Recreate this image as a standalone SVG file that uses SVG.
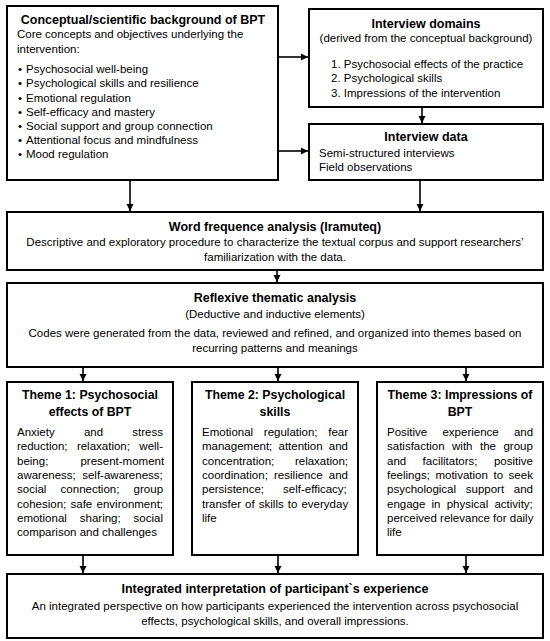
<svg xmlns="http://www.w3.org/2000/svg" width="550" height="641" viewBox="0 0 550 641">
<style>
.box{fill:#fff;stroke:#000;stroke-width:2}
text{font-family:"Liberation Sans",Arial,sans-serif;fill:#000}
.t{font-size:12.5px;font-weight:bold;text-anchor:middle}
.tt{font-size:12.3px;font-weight:bold;text-anchor:middle}
.b{font-size:11.5px}
.c{text-anchor:middle}
.conn line{stroke:#000;stroke-width:1.6;marker-end:url(#ah)}
</style>
<defs>
<marker id="ah" markerUnits="userSpaceOnUse" markerWidth="8" markerHeight="8" refX="7" refY="4" orient="auto">
<path d="M0,0.5 L7,4 L0,7.5 z" fill="#000"/>
</marker>
</defs>
<rect width="550" height="641" fill="#fff"/>

<g id="connectors" class="conn">
<line x1="278" y1="57" x2="308" y2="57"/>
<line x1="278" y1="151" x2="308" y2="151"/>
<line x1="422" y1="107" x2="422" y2="123"/>
<line x1="130" y1="180" x2="130" y2="211"/>
<line x1="420" y1="180" x2="420" y2="211"/>
<line x1="277" y1="270" x2="277" y2="282"/>
<line x1="83" y1="367" x2="83" y2="381"/>
<line x1="278" y1="367" x2="278" y2="381"/>
<line x1="466" y1="367" x2="466" y2="381"/>
<line x1="83" y1="555" x2="83" y2="573"/>
<line x1="278" y1="555" x2="278" y2="573"/>
<line x1="466" y1="555" x2="466" y2="573"/>
</g>

<g id="background">
<rect class="box" x="7" y="6" width="271" height="174"/>
<text class="t" x="143" y="23.5">Conceptual/scientific background of BPT</text>
<text class="b" x="17" y="38">Core concepts and objectives underlying the</text>
<text class="b" x="17" y="53">intervention:</text>
<g class="b">
<text class="b" x="18" y="73">•</text><text class="b" x="26" y="73">Psychosocial well-being</text>
<text class="b" x="18" y="87">•</text><text class="b" x="26" y="87">Psychological skills and resilience</text>
<text class="b" x="18" y="101.5">•</text><text class="b" x="26" y="101.5">Emotional regulation</text>
<text class="b" x="18" y="116">•</text><text class="b" x="26" y="116">Self-efficacy and mastery</text>
<text class="b" x="18" y="130">•</text><text class="b" x="26" y="130">Social support and group connection</text>
<text class="b" x="18" y="144">•</text><text class="b" x="26" y="144">Attentional focus and mindfulness</text>
<text class="b" x="18" y="158">•</text><text class="b" x="26" y="158">Mood regulation</text>
</g>
</g>

<g id="domains">
<rect class="box" x="309" y="9" width="234" height="98"/>
<text class="t" x="426" y="27.5">Interview domains</text>
<text class="b c" x="426" y="42">(derived from the conceptual background)</text>
<text class="b" x="331" y="67.5">1. Psychosocial effects of the practice</text>
<text class="b" x="331" y="82">2. Psychological skills</text>
<text class="b" x="331" y="96.5">3. Impressions of the intervention</text>
</g>

<g id="data">
<rect class="box" x="309" y="124" width="234" height="56"/>
<text class="t" x="426" y="141">Interview data</text>
<text class="b" x="319" y="157">Semi-structured interviews</text>
<text class="b" x="319" y="171">Field observations</text>
</g>

<g id="wordfreq">
<rect class="box" x="7" y="212" width="536" height="58"/>
<text class="t" x="275" y="230.5">Word frequence analysis (Iramuteq)</text>
<text class="b c" x="275" y="246">Descriptive and exploratory procedure to characterize the textual corpus and support researchers’</text>
<text class="b c" x="275" y="261">familiarization with the data.</text>
</g>

<g id="thematic">
<rect class="box" x="7" y="283" width="536" height="84"/>
<text class="t" x="275" y="302">Reflexive thematic analysis</text>
<text class="b c" x="275" y="317.5">(Deductive and inductive elements)</text>
<text class="b c" x="275" y="337">Codes were generated from the data, reviewed and refined, and organized into themes based on</text>
<text class="b c" x="275" y="352">recurring patterns and meanings</text>
</g>

<g id="theme1">
<rect class="box" x="7" y="382" width="166" height="173"/>
<text class="tt" x="90" y="399">Theme 1: Psychosocial</text>
<text class="tt" x="90" y="416">effects of BPT</text>
<text class="b" x="17" y="436" style="word-spacing:26px">Anxiety and stress</text>
<text class="b" x="17" y="450.3" style="word-spacing:6.2px">reduction; relaxation; well-</text>
<text class="b" x="17" y="464.6" style="word-spacing:28.9px">being; present-moment</text>
<text class="b" x="17" y="478.9" style="word-spacing:3.2px">awareness; self-awareness;</text>
<text class="b" x="17" y="493.2" style="word-spacing:11px">social connection; group</text>
<text class="b" x="17" y="507.5" style="word-spacing:1.1px">cohesion; safe environment;</text>
<text class="b" x="17" y="521.8" style="word-spacing:9.7px">emotional sharing; social</text>
<text class="b" x="17" y="536.1">comparison and challenges</text>
</g>

<g id="theme2">
<rect class="box" x="192" y="382" width="166" height="173"/>
<text class="tt" x="275" y="399">Theme 2: Psychological</text>
<text class="tt" x="275" y="416">skills</text>
<text class="b" x="202" y="436" style="word-spacing:7.5px">Emotional regulation; fear</text>
<text class="b" x="202" y="450.3" style="word-spacing:3px">management; attention and</text>
<text class="b" x="202" y="464.6" style="word-spacing:17.5px">concentration; relaxation;</text>
<text class="b" x="202" y="478.9" style="word-spacing:3px">coordination; resilience and</text>
<text class="b" x="202" y="493.2" style="word-spacing:15.9px">persistence; self-efficacy;</text>
<text class="b" x="202" y="507.5" style="word-spacing:0.9px">transfer of skills to everyday</text>
<text class="b" x="202" y="521.8">life</text>
</g>

<g id="theme3">
<rect class="box" x="377" y="382" width="166" height="173"/>
<text class="tt" x="460" y="399">Theme 3: Impressions of</text>
<text class="tt" x="460" y="416">BPT</text>
<text class="b" x="387" y="436" style="word-spacing:12px">Positive experience and</text>
<text class="b" x="387" y="450.3" style="word-spacing:4.3px">satisfaction with the group</text>
<text class="b" x="387" y="464.6" style="word-spacing:13.2px">and facilitators; positive</text>
<text class="b" x="387" y="478.9" style="word-spacing:2.4px">feelings; motivation to seek</text>
<text class="b" x="387" y="493.2" style="word-spacing:6.5px">psychological support and</text>
<text class="b" x="387" y="507.5" style="word-spacing:3px">engage in physical activity;</text>
<text class="b" x="387" y="521.8">perceived relevance for daily</text>
<text class="b" x="387" y="536.1">life</text>
</g>

<g id="integrated">
<rect class="box" x="7" y="574" width="536" height="64"/>
<text class="t" x="275" y="593">Integrated interpretation of participant`s experience</text>
<text class="b c" x="275" y="610">An integrated perspective on how participants experienced the intervention across psychosocial</text>
<text class="b c" x="275" y="625">effects, psychological skills, and overall impressions.</text>
</g>
</svg>
